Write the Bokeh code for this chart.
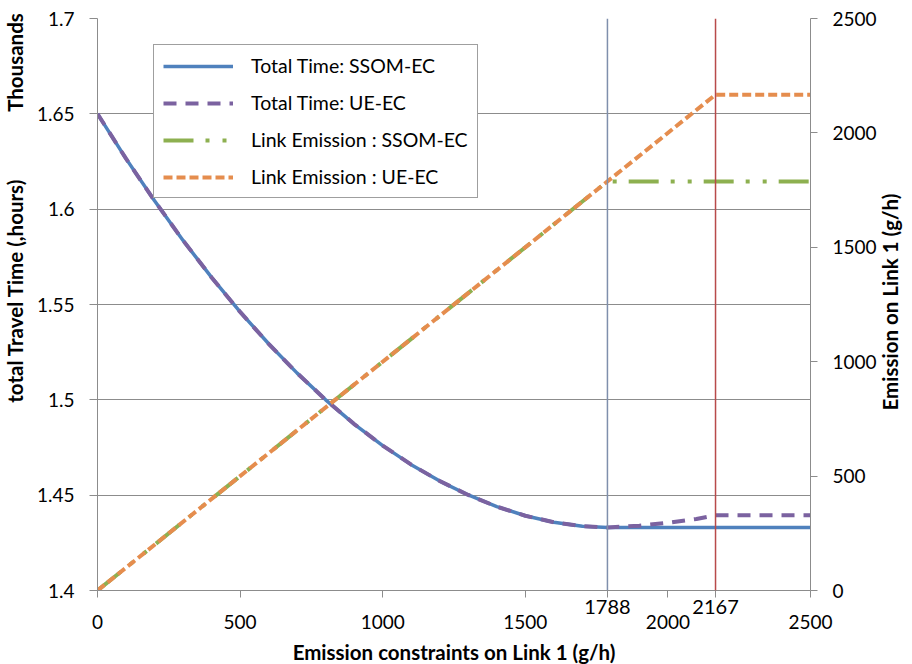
from math import pi
from bokeh.plotting import figure
from bokeh.models import (Range1d, LinearAxis, FixedTicker, Span,
                          Legend, LegendItem)
from bokeh.embed import file_html
from bokeh.resources import INLINE

# ---------------- data ----------------
x_time = [0, 100, 200, 300, 400, 500, 600, 700, 800, 900, 1000, 1100, 1200,
          1300, 1400, 1500, 1600, 1700, 1788, 2500]
time_ssom = [1.650, 1.6265, 1.6044, 1.5836, 1.5642, 1.5461, 1.5294, 1.5140,
             1.5000, 1.4873, 1.4760, 1.4660, 1.4574, 1.4501, 1.4440, 1.4392,
             1.4358, 1.4337, 1.4330, 1.4330]

x_time_ue = [0, 100, 200, 300, 400, 500, 600, 700, 800, 900, 1000, 1100, 1200,
             1300, 1400, 1500, 1600, 1700, 1788, 1900, 2000, 2100, 2167, 2500]
time_ue = [1.650, 1.6265, 1.6044, 1.5836, 1.5642, 1.5461, 1.5294, 1.5140,
           1.5000, 1.4873, 1.4760, 1.4660, 1.4574, 1.4501, 1.4440, 1.4392,
           1.4358, 1.4337, 1.4330, 1.4340, 1.4355, 1.4375, 1.4395, 1.4395]

x_em_ssom = [0, 1788, 2500]
em_ssom = [0, 1788, 1788]
x_em_ue = [0, 2167, 2500]
em_ue = [0, 2167, 2167]

x_ticks = [0, 500, 1000, 1500, 2000, 2500]
y_left_ticks = [1.4, 1.45, 1.5, 1.55, 1.6, 1.65, 1.7]
y_left_labels = ["1.4", "1.45", "1.5", "1.55", "1.6", "1.65", "1.7"]
y_right_ticks = [0, 500, 1000, 1500, 2000, 2500]
markers = [1788, 2167]
marker_labels = ["1788", "2167"]

x_title = "Emission constraints on Link 1 (g/h)"
left_title = "total Travel Time (,hours)"
left_unit = "Thousands"
right_title = "Emission on Link 1 (g/h)"

FONT = "Lato"
GRID = "#8c8c8c"
TICK_FS = "19px"
TITLE_FS = "20.5px"

p = figure(frame_width=713, frame_height=572,
           min_border_left=95, min_border_right=90,
           min_border_top=18, min_border_bottom=60,
           x_range=Range1d(0, 2500), y_range=Range1d(1.4, 1.7),
           x_axis_location=None,
           output_backend="svg", toolbar_location=None)
p.extra_y_ranges = {"em": Range1d(0, 2500)}
p.outline_line_color = None
p.background_fill_color = "white"
p.border_fill_color = "white"


def plain(axis):
    axis.minor_tick_line_color = None
    axis.major_tick_in = 0
    axis.major_label_text_font = FONT
    axis.major_label_text_color = "black"


# ---- bottom axis A: axis line, tick marks, marker labels 1788 / 2167
xa_ticks = sorted(x_ticks + markers)
xa = LinearAxis(ticker=FixedTicker(ticks=xa_ticks))
plain(xa)
xa.major_label_overrides = {t: "" for t in x_ticks}
xa.major_label_overrides.update({m: l for m, l in zip(markers, marker_labels)})
xa.major_tick_out = 7
xa.axis_line_color = GRID
xa.major_tick_line_color = GRID
xa.major_label_standoff = 2
xa.major_label_text_font_size = "20px"
p.add_layout(xa, "below")

# ---- bottom axis B: regular labels + title
xb = LinearAxis(ticker=FixedTicker(ticks=x_ticks))
plain(xb)
xb.major_tick_out = 0
xb.axis_line_color = None
xb.major_tick_line_color = None
xb.major_label_standoff = -2
xb.major_label_text_font_size = TICK_FS
xb.axis_label = x_title
xb.axis_label_standoff = 8
xb.axis_label_text_font = FONT
xb.axis_label_text_font_style = "bold"
xb.axis_label_text_font_size = TITLE_FS
xb.axis_label_text_color = "black"
p.add_layout(xb, "below")

# ---- left axis
ya = p.yaxis[0]
ya.ticker = FixedTicker(ticks=y_left_ticks)
ya.major_label_overrides = {t: l for t, l in zip(y_left_ticks, y_left_labels)}
plain(ya)
ya.major_tick_out = 8
ya.axis_line_color = GRID
ya.major_tick_line_color = GRID
ya.major_label_standoff = 15
ya.major_label_text_font_size = TICK_FS

# ---- left title column ("total Travel Time" and "Thousands")
left_pos = [1.5573, 1.6769]
lt = LinearAxis(ticker=FixedTicker(ticks=left_pos))
plain(lt)
lt.major_label_overrides = {left_pos[0]: left_title, left_pos[1]: left_unit}
lt.major_label_orientation = "parallel"
lt.major_tick_out = 0
lt.axis_line_color = None
lt.major_tick_line_color = None
lt.major_label_standoff = 6
lt.major_label_text_font_style = "bold"
lt.major_label_text_font_size = TITLE_FS
p.add_layout(lt, "left")

# ---- right axis
ra = LinearAxis(y_range_name="em", ticker=FixedTicker(ticks=y_right_ticks))
plain(ra)
ra.major_tick_out = 7
ra.axis_line_color = GRID
ra.major_tick_line_color = GRID
ra.major_label_standoff = 15
ra.major_label_text_font_size = TICK_FS
p.add_layout(ra, "right")

right_pos = [786.7]
rt = LinearAxis(y_range_name="em", ticker=FixedTicker(ticks=right_pos))
plain(rt)
rt.major_label_overrides = {right_pos[0]: right_title}
rt.major_label_orientation = pi / 2
rt.major_tick_out = 0
rt.axis_line_color = None
rt.major_tick_line_color = None
rt.major_label_standoff = 11
rt.major_label_text_font_style = "bold"
rt.major_label_text_font_size = TITLE_FS
p.add_layout(rt, "right")

p.xgrid.visible = False
p.ygrid.ticker = FixedTicker(ticks=y_left_ticks)
p.ygrid.grid_line_color = GRID
p.ygrid.grid_line_width = 1

# data lines
r1 = p.line(x_time, time_ssom, line_color="#4F81BD", line_width=3.5)
r2 = p.line(x_time_ue, time_ue, line_color="#7B62A0", line_width=4,
            line_dash="13 9")
r3 = p.line(x_em_ssom, em_ssom, y_range_name="em", line_color="#8DB050",
            line_width=4, line_dash="30 12 4 13 4 12")
r4 = p.line(x_em_ue, em_ue, y_range_name="em", line_color="#E58D4E",
            line_width=4, line_dash="9 4")

# vertical marker lines
p.add_layout(Span(location=markers[0], dimension="height",
                  line_color="#7F8FAC", line_width=1.5))
p.add_layout(Span(location=markers[1], dimension="height",
                  line_color="#B84A4A", line_width=1.5))

legend = Legend(items=[
    LegendItem(label="Total Time: SSOM-EC", renderers=[r1]),
    LegendItem(label="Total Time: UE-EC", renderers=[r2]),
    LegendItem(label="Link Emission : SSOM-EC", renderers=[r3]),
    LegendItem(label="Link Emission : UE-EC", renderers=[r4]),
], location=(56, 392))
legend.glyph_width = 70
legend.glyph_height = 20
legend.label_height = 20
legend.spacing = 14
legend.padding = 9
legend.margin = 0
legend.label_standoff = 18
legend.label_text_font = FONT
legend.label_text_font_size = "19.5px"
legend.label_text_color = "black"
legend.border_line_color = "#404040"
legend.border_line_width = 1.5
legend.background_fill_alpha = 1
p.add_layout(legend, "center")

open("out.html", "w").write(file_html(p, INLINE))
